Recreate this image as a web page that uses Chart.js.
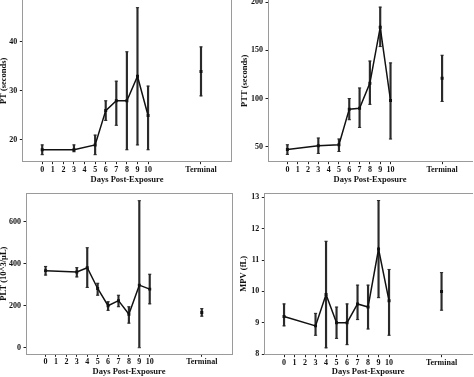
<!DOCTYPE html>
<html>
<head>
<meta charset="utf-8">
<script src="https://cdn.jsdelivr.net/npm/chart.js@4.4.1/dist/chart.umd.min.js"></script>
<style>
  html, body { margin: 0; padding: 0; background: #fff; }
  body { width: 474px; height: 377px; position: relative; overflow: hidden; }
  canvas { position: absolute; }
</style>
</head>
<body>
<canvas id="ptChart" width="240" height="200" style="left:-3px; top:-10px;"></canvas>
<canvas id="pttChart" width="240" height="200" style="left:237px; top:-10px;"></canvas>
<canvas id="pltChart" width="240" height="192" style="left:-3px; top:185px;"></canvas>
<canvas id="mpvChart" width="240" height="192" style="left:237px; top:185px;"></canvas>
<script>
// days sampled in each panel, Terminal sits at x = 15 on the axis
const coagDays = [0, 3, 5, 6, 7, 8, 9, 10];
const cbcDays = [0, 3, 4, 5, 6, 7, 8, 9, 10];
const terminalX = 15;
const xTickValues = [0, 1, 2, 3, 4, 5, 6, 7, 8, 9, 10, 15];
const xTickLabels = ['0', '1', '2', '3', '4', '5', '6', '7', '8', '9', '10', 'Terminal'];

// PT (seconds)
const ptMean = [18, 18, 19, 26, 28, 28, 33, 25];
const ptLow = [17, 17.6, 17, 24, 23, 18, 19, 18];
const ptHigh = [19, 19, 21, 28, 32, 38, 47, 31];
const ptTerminal = [34, 29, 39]; // mean, low, high
const ptTicks = [20, 30, 40];

// PTT (seconds)
const pttMean = [47, 51, 52, 89, 90, 116, 174, 98];
const pttLow = [42, 43, 45, 78, 70, 94, 154, 58];
const pttHigh = [52, 59, 58, 100, 111, 139, 195, 137];
const pttTerminal = [121, 97, 145];
const pttTicks = [50, 100, 150, 200];

// PLT (10^3/uL)
const pltMean = [367, 361, 381, 282, 200, 224, 159, 298, 279];
const pltLow = [346, 337, 287, 250, 178, 195, 117, 0, 209];
const pltHigh = [387, 381, 476, 307, 219, 250, 195, 700, 350];
const pltTerminal = [168, 150, 186];
const pltTicks = [0, 200, 400, 600];

// MPV (fL)
const mpvMean = [9.2, 8.9, 9.9, 9.0, 9.0, 9.6, 9.5, 11.35, 9.7];
const mpvLow = [8.9, 8.6, 8.2, 8.5, 8.3, 9.1, 8.8, 9.8, 8.6];
const mpvHigh = [9.6, 9.3, 11.6, 9.5, 9.6, 10.2, 10.2, 12.9, 10.7];
const mpvTerminal = [10.0, 9.4, 10.6];
const mpvTicks = [8, 9, 10, 11, 12, 13];

const serif = "'Liberation Serif', 'Times New Roman', 'DejaVu Serif', serif";
const tickFont = { family: serif, size: 8, weight: 'bold' };
const titleFont = { family: serif, size: 8.5, weight: 'bold' };
const axisGrey = '#9a9a9a';
const ink = '#111';

function panel(id, o) {
    const line = o.days.map((d, i) => ({ x: d, y: o.mean[i] }));
    const bars = o.days.map((d, i) => ({ x: d, y: [o.low[i], o.high[i]] }));
    bars.push({ x: terminalX, y: [o.terminal[1], o.terminal[2]] });
    const caps = [];
    bars.forEach(b => {
        caps.push({ x: b.x, y: b.y[0] });
        caps.push({ x: b.x, y: b.y[1] });
    });

    const tickGrid = {
        display: true,
        offset: false,
        drawOnChartArea: false,
        drawTicks: true,
        tickLength: 2.5,
        tickColor: '#222',
        tickWidth: 1
    };
    const border = { display: true, color: axisGrey, width: 1 };

    const scales = {
        x: {
            type: 'linear',
            position: 'bottom',
            offset: false, // bar datasets would otherwise pad the axis
            min: -1.88,
            max: 17.9,
            bounds: 'data',
            afterBuildTicks: s => { s.ticks = xTickValues.map(v => ({ value: v })); },
            afterFit: s => { s.height = o.xHeight; },
            ticks: {
                autoSkip: false,
                maxRotation: 0,
                padding: 0.5,
                color: ink,
                font: tickFont,
                callback: v => xTickLabels[xTickValues.indexOf(v)]
            },
            grid: tickGrid,
            border: border,
            title: {
                display: true,
                text: 'Days Post-Exposure',
                color: ink,
                font: titleFont,
                padding: { top: 0, bottom: o.xTitlePad }
            }
        },
        y: {
            type: 'linear',
            position: 'left',
            min: o.yMin,
            max: o.yMax,
            bounds: 'data',
            afterBuildTicks: s => { s.ticks = o.yTicks.map(v => ({ value: v })); },
            afterFit: s => { s.width = o.yWidth; },
            ticks: { padding: 2.5, color: ink, font: tickFont, callback: v => String(v) },
            grid: tickGrid,
            border: border,
            title: {
                display: true,
                text: o.yTitle,
                color: ink,
                font: titleFont,
                padding: { top: o.yTitlePad, bottom: 0 }
            }
        }
    };
    if (o.boxTop) {
        scales.xTop = {
            type: 'linear', position: 'top', offset: false,
            ticks: { display: false }, grid: { display: false }, border: border,
            afterFit: s => { s.height = 0; }
        };
    }
    if (o.boxRight) {
        scales.yRight = {
            type: 'linear', position: 'right',
            ticks: { display: false }, grid: { display: false }, border: border,
            afterFit: s => { s.width = 0; }
        };
    }

    return new Chart(document.getElementById(id), {
        type: 'scatter',
        data: {
            datasets: [{
                type: 'scatter',
                data: line,
                showLine: true,
                borderColor: ink,
                borderWidth: 1.5,
                pointStyle: 'rect',
                pointRadius: 2.1,
                pointBackgroundColor: ink,
                pointBorderWidth: 0,
                order: 1
            }, {
                type: 'scatter',
                data: [{ x: terminalX, y: o.terminal[0] }],
                pointStyle: 'rect',
                pointRadius: 2.1,
                pointBackgroundColor: ink,
                pointBorderWidth: 0,
                order: 0
            }, {
                type: 'bar',
                data: bars,
                barThickness: 1.5,
                backgroundColor: '#2a2a2a',
                borderWidth: 0,
                order: 3
            }, {
                type: 'scatter',
                data: caps,
                pointStyle: 'line',
                pointRadius: 1.6,
                borderColor: '#2a2a2a',
                pointBorderWidth: 1,
                order: 2
            }]
        },
        options: {
            responsive: false,
            animation: false,
            devicePixelRatio: 1,
            layout: { padding: { top: o.padTop, right: o.padRight, left: 0, bottom: 0 } },
            plugins: { legend: { display: false }, tooltip: { enabled: false } },
            scales: scales
        }
    });
}

panel('ptChart', {
    days: coagDays, mean: ptMean, low: ptLow, high: ptHigh, terminal: ptTerminal,
    yTicks: ptTicks, yMin: 15.57, yMax: 48.57, yTitle: 'PT (seconds)',
    yWidth: 25.3, xHeight: 28.3, padTop: 10, padRight: 5.3,
    xTitlePad: 5.2, yTitlePad: 1.4, boxTop: false, boxRight: true
});

panel('pttChart', {
    days: coagDays, mean: pttMean, low: pttLow, high: pttHigh, terminal: pttTerminal,
    yTicks: pttTicks, yMin: 34.4, yMax: 202.4, yTitle: 'PTT (seconds)',
    yWidth: 31, xHeight: 28.3, padTop: 10, padRight: 2.5,
    xTitlePad: 5.2, yTitlePad: 2.4, boxTop: false, boxRight: false
});

panel('pltChart', {
    days: cbcDays, mean: pltMean, low: pltLow, high: pltHigh, terminal: pltTerminal,
    yTicks: pltTicks, yMin: -31.4, yMax: 736.7, yTitle: 'PLT (10^3/\u03bcL)',
    yWidth: 29, xHeight: 22.7, padTop: 8, padRight: 5,
    xTitlePad: 0.4, yTitlePad: 1.9, boxTop: true, boxRight: true
});

panel('mpvChart', {
    days: cbcDays, mean: mpvMean, low: mpvLow, high: mpvHigh, terminal: mpvTerminal,
    yTicks: mpvTicks, yMin: 7.98, yMax: 13.14, yTitle: 'MPV (fL)',
    yWidth: 27.3, xHeight: 22.3, padTop: 8, padRight: 2.5,
    xTitlePad: 0, yTitlePad: 1.4, boxTop: true, boxRight: false
});
</script>
</body>
</html>
